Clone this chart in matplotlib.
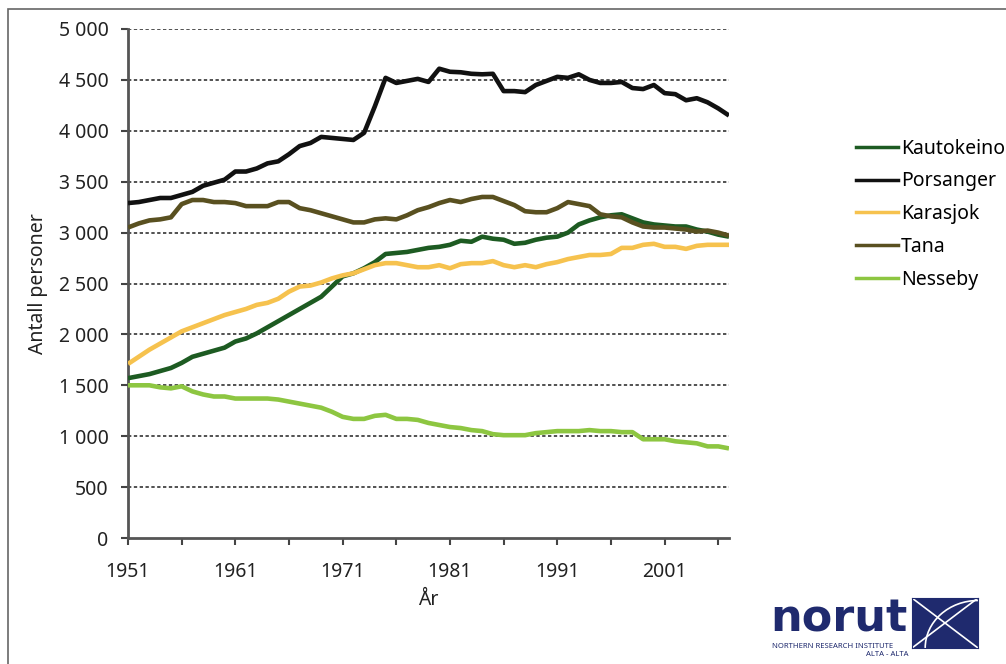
import matplotlib
matplotlib.use("Agg")
import matplotlib.pyplot as plt
from matplotlib.lines import Line2D
from matplotlib.patches import Rectangle, Arc

plt.rcParams["font.family"] = ["Noto Sans", "DejaVu Sans"]

years = list(range(1951, 2008))

kautokeino = [1570, 1590, 1610, 1640, 1670, 1720, 1780, 1810, 1840, 1870,
              1930, 1960, 2010, 2070, 2130, 2190, 2250, 2310, 2370, 2470,
              2570, 2600, 2650, 2710, 2790, 2800, 2810, 2830, 2850, 2860,
              2880, 2920, 2910, 2960, 2940, 2930, 2890, 2900, 2930, 2950,
              2960, 3000, 3080, 3120, 3150, 3170, 3180, 3140, 3100, 3080,
              3070, 3060, 3060, 3030, 3010, 2980, 2960]
porsanger = [3290, 3300, 3320, 3340, 3340, 3370, 3400, 3460, 3490, 3520,
             3600, 3600, 3630, 3680, 3700, 3770, 3850, 3880, 3940, 3930,
             3920, 3910, 3980, 4240, 4520, 4470, 4490, 4510, 4480, 4610,
             4580, 4575, 4560, 4555, 4560, 4390, 4390, 4380, 4450, 4490,
             4530, 4520, 4555, 4500, 4470, 4470, 4480, 4420, 4410, 4450,
             4370, 4360, 4300, 4320, 4280, 4220, 4150]
karasjok = [1710, 1780, 1850, 1910, 1970, 2030, 2070, 2110, 2150, 2190,
            2220, 2250, 2290, 2310, 2350, 2420, 2470, 2480, 2510, 2550,
            2580, 2600, 2640, 2680, 2700, 2700, 2680, 2660, 2660, 2680,
            2650, 2690, 2700, 2700, 2720, 2680, 2660, 2680, 2660, 2690,
            2710, 2740, 2760, 2780, 2780, 2790, 2850, 2850, 2880, 2890,
            2860, 2860, 2840, 2870, 2880, 2880, 2880]
tana = [3050, 3090, 3120, 3130, 3150, 3280, 3320, 3320, 3300, 3300,
        3290, 3260, 3260, 3260, 3300, 3300, 3240, 3220, 3190, 3160,
        3130, 3100, 3100, 3130, 3140, 3130, 3170, 3220, 3250, 3290,
        3320, 3300, 3330, 3350, 3350, 3310, 3270, 3210, 3200, 3200,
        3240, 3300, 3280, 3260, 3180, 3160, 3150, 3100, 3060, 3050,
        3050, 3040, 3030, 3010, 3020, 3000, 2970]
nesseby = [1500, 1500, 1500, 1480, 1470, 1490, 1440, 1410, 1390, 1390,
           1370, 1370, 1370, 1370, 1360, 1340, 1320, 1300, 1280, 1240,
           1190, 1170, 1170, 1200, 1210, 1170, 1170, 1160, 1130, 1110,
           1090, 1080, 1060, 1050, 1020, 1010, 1010, 1010, 1030, 1040,
           1050, 1050, 1050, 1060, 1050, 1050, 1040, 1040, 970, 970,
           970, 950, 940, 930, 900, 900, 880]

names = ["Kautokeino", "Porsanger", "Karasjok", "Tana", "Nesseby"]
series = [kautokeino, porsanger, karasjok, tana, nesseby]
colors = ["#1d5b22", "#111111", "#f6c24e", "#595020", "#8dc641"]

yticks = list(range(0, 5001, 500))
ytick_labels = ["0", "500", "1 000", "1 500", "2 000", "2 500",
                "3 000", "3 500", "4 000", "4 500", "5 000"]
xticks = list(range(1951, 2008, 5))
xtick_labels = [str(y) if (y - 1951) % 10 == 0 else "" for y in xticks]

fig = plt.figure(figsize=(10.06, 6.64), dpi=100)
ax = fig.add_axes([128 / 1006, 1 - 538 / 664, (729 - 128) / 1006, (538 - 29) / 664])

for yv in yticks[1:]:
    ax.axhline(yv, color="#333333", linestyle=(0, (2, 1.5)), linewidth=1.2, zorder=1)

for name, vals, col in zip(names, series, colors):
    ax.plot(years, vals, color=col, linewidth=3.3, solid_joinstyle="round",
            solid_capstyle="butt", zorder=3, label=name)

ax.set_xlim(1951, 2007)
ax.set_ylim(0, 5000)
ax.set_yticks(yticks)
ax.set_yticklabels(ytick_labels)
ax.set_xticks(xticks)
ax.set_xticklabels(xtick_labels)
ax.tick_params(axis="both", labelsize=14, colors="#444444", labelcolor="#222222",
               length=5, width=1.5, direction="out")
ax.tick_params(axis="x", pad=12)
ax.tick_params(axis="y", pad=9)
for s in ["top", "right"]:
    ax.spines[s].set_visible(False)
for s in ["left", "bottom"]:
    ax.spines[s].set_color("#555555")
    ax.spines[s].set_linewidth(2)

ax.set_ylabel("Antall personer", fontsize=14, color="#222222", labelpad=8)
ax.set_xlabel("År", fontsize=14, color="#222222", labelpad=6)

handles = [Line2D([0], [0], color=c, linewidth=2.5) for c in colors]
fig.legend(handles, names, loc="upper left", bbox_to_anchor=(838 / 1006, 1 - 121 / 664),
           frameon=False, fontsize=14, handlelength=2.2, handletextpad=0.15,
           labelspacing=0.66)

# frame round the picture
fig.add_artist(Rectangle((8 / 1006, -0.05), 1.2, 1 - 9 / 664 + 0.05,
                         transform=fig.transFigure, fill=False,
                         edgecolor="#666666", linewidth=1.2))

# logo
navy = "#1f2a6e"
fig.text(770 / 1006, 1 - 632 / 664, "norut", fontsize=32, fontweight="bold",
         color=navy, family="DejaVu Sans", va="baseline")
fig.text(772 / 1006, 1 - 648 / 664, "NORTHERN RESEARCH INSTITUTE", fontsize=5.5,
         color=navy)
fig.text(866 / 1006, 1 - 656 / 664, "ALTA - ALTA", fontsize=5.5, color=navy)
logo = fig.add_axes([912 / 1006, 1 - 648 / 664, 66 / 1006, 50 / 664])
logo.set_facecolor(navy)
logo.plot([0, 1], [0, 1], color="white", linewidth=1.2)
logo.plot([0, 1], [1, 0], color="white", linewidth=1.2)
logo.add_patch(Arc((1.0, 0.0), 1.6, 1.9, theta1=90, theta2=180,
                   color="white", linewidth=1.2))
logo.set_xlim(0, 1)
logo.set_ylim(0, 1)
logo.set_xticks([])
logo.set_yticks([])
for s in logo.spines.values():
    s.set_color(navy)

fig.savefig("out.png", dpi=100)
